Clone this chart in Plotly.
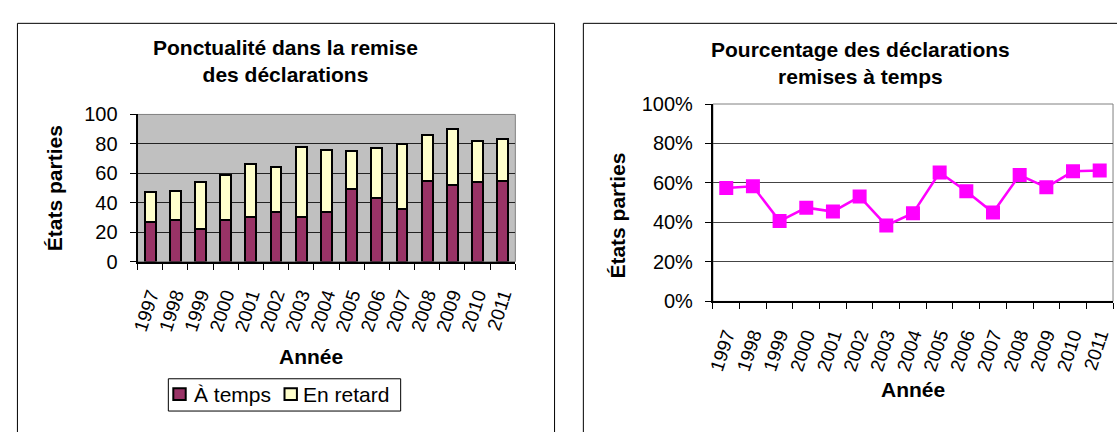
import plotly.graph_objects as go

W, H = 1117, 432

years = ["1997", "1998", "1999", "2000", "2001", "2002", "2003", "2004",
         "2005", "2006", "2007", "2008", "2009", "2010", "2011"]
a_temps = [27, 28, 22, 28, 30, 34, 30, 34, 49, 43, 36, 55, 52, 54, 55]
en_retard = [20, 20, 32, 31, 36, 30, 48, 42, 26, 34, 44, 31, 38, 28, 28]
pct_a_temps = [57.4, 58.3, 40.7, 47.5, 45.5, 53.1, 38.5, 44.7, 65.3, 55.8,
               45.0, 64.0, 57.8, 65.9, 66.3]
y_ticks_left = [0, 20, 40, 60, 80, 100]
y_ticks_right = [0, 20, 40, 60, 80, 100]
y_ticklabels_right = ["0%", "20%", "40%", "60%", "80%", "100%"]

PURPLE = "#993366"
CREAM = "#FFFFCC"
MAGENTA = "#FF00FF"
FONT = "Liberation Sans, Arial, sans-serif"


def px(x):
    return x / W


def py(y):
    return 1 - y / H


fig = go.Figure()

fig.add_trace(go.Bar(x=years, y=a_temps, name="À temps",
                     marker=dict(color=PURPLE, line=dict(color="black", width=2)),
                     width=0.43, xaxis="x", yaxis="y", showlegend=False))
fig.add_trace(go.Bar(x=years, y=en_retard, name="En retard",
                     marker=dict(color=CREAM, line=dict(color="black", width=2)),
                     width=0.43, xaxis="x", yaxis="y", showlegend=False))
fig.add_trace(go.Scatter(x=years, y=pct_a_temps, mode="lines+markers",
                         line=dict(color=MAGENTA, width=2.5),
                         marker=dict(symbol="square", size=14, color=MAGENTA),
                         xaxis="x2", yaxis="y2", showlegend=False))

tickfont = dict(family=FONT, size=20, color="black")
xtickfont = dict(family=FONT, size=19, color="black")

common_x = dict(type="category", tickson="boundaries", ticks="outside", ticklen=6,
                tickcolor="black", tickwidth=1, tickangle=-72, tickfont=xtickfont,
                ticklabelstandoff=13,
                showline=True, linecolor="black", linewidth=2, showgrid=False,
                range=[-0.5, 14.5], fixedrange=True)
common_y = dict(ticks="outside", ticklen=6, tickcolor="black", tickwidth=1,
                tickfont=tickfont, ticklabelstandoff=8, showline=True,
                linecolor="black", linewidth=2,
                showgrid=True, gridwidth=1, zeroline=False, range=[0, 100],
                fixedrange=True)

fig.update_layout(
    width=W, height=H,
    margin=dict(l=0, r=0, t=0, b=0),
    paper_bgcolor="white",
    plot_bgcolor="rgba(0,0,0,0)",
    barmode="stack",
    font=dict(family=FONT, color="black"),
    xaxis=dict(domain=[px(130.5), px(511)], anchor="y", **common_x),
    yaxis=dict(domain=[py(264), py(109)], anchor="x", tickmode="array",
               tickvals=y_ticks_left, gridcolor="#222222", **common_y),
    xaxis2=dict(domain=[px(710), px(1113)], anchor="y2", **common_x),
    yaxis2=dict(domain=[py(306), py(98)], anchor="x2", tickmode="array",
                tickvals=y_ticks_right, ticktext=y_ticklabels_right,
                gridcolor="#444444", **common_y),
)

shapes = []
shapes.append(dict(type="rect", xref="x domain", yref="y domain", x0=0, x1=1, y0=0, y1=1,
                   fillcolor="#C0C0C0", line=dict(color="#808080", width=1), layer="below"))
shapes.append(dict(type="rect", xref="x2 domain", yref="y2 domain", x0=0, x1=1, y0=0, y1=1,
                   fillcolor="white", line=dict(color="#808080", width=1), layer="below"))
shapes.append(dict(type="rect", xref="paper", yref="paper", x0=px(9.5), x1=px(550.5),
                   y0=py(460), y1=py(13), line=dict(color="black", width=1)))
shapes.append(dict(type="rect", xref="paper", yref="paper", x0=px(579.5), x1=px(1140),
                   y0=py(460), y1=py(13), line=dict(color="black", width=1)))
# legend box and keys
shapes.append(dict(type="rect", xref="paper", yref="paper", x0=px(161.5), x1=px(395.5),
                   y0=py(421.5), y1=py(387.5), line=dict(color="black", width=1)))
shapes.append(dict(type="rect", xref="paper", yref="paper", x0=px(166.5), x1=px(179),
                   y0=py(410), y1=py(397.5), fillcolor=PURPLE, line=dict(color="black", width=2)))
shapes.append(dict(type="rect", xref="paper", yref="paper", x0=px(278.5), x1=px(291),
                   y0=py(410), y1=py(397.5), fillcolor=CREAM, line=dict(color="black", width=2)))
fig.update_layout(shapes=shapes)

titlefont = dict(family=FONT, size=21, color="black")
legfont = dict(family=FONT, size=21, color="black")
ann = []
ann.append(dict(text="<b>Ponctualité dans la remise<br>des déclarations</b>", x=px(280), y=py(53),
                xref="paper", yref="paper", showarrow=False, font=titlefont,
                xanchor="center", yanchor="middle"))
ann.append(dict(text="<b>Pourcentage des déclarations<br>remises à temps</b>", x=px(859), y=py(55),
                xref="paper", yref="paper", showarrow=False, font=titlefont,
                xanchor="center", yanchor="middle"))
ann.append(dict(text="<b>États parties</b>", x=px(47), y=py(187), textangle=-90,
                xref="paper", yref="paper", showarrow=False, font=titlefont,
                xanchor="center", yanchor="middle"))
ann.append(dict(text="<b>États parties</b>", x=px(613), y=py(216), textangle=-90,
                xref="paper", yref="paper", showarrow=False, font=titlefont,
                xanchor="center", yanchor="middle"))
ann.append(dict(text="<b>Année</b>", x=px(305), y=py(364),
                xref="paper", yref="paper", showarrow=False, font=titlefont,
                xanchor="center", yanchor="middle"))
ann.append(dict(text="<b>Année</b>", x=px(912), y=py(399),
                xref="paper", yref="paper", showarrow=False, font=titlefont,
                xanchor="center", yanchor="middle"))
ann.append(dict(text="À temps", x=px(185), y=py(404),
                xref="paper", yref="paper", showarrow=False, font=legfont,
                xanchor="left", yanchor="middle"))
ann.append(dict(text="En retard", x=px(295), y=py(404),
                xref="paper", yref="paper", showarrow=False, font=legfont,
                xanchor="left", yanchor="middle"))
fig.update_layout(annotations=ann)

fig.write_html("out.html", post_script="document.body.style.margin='0';")
